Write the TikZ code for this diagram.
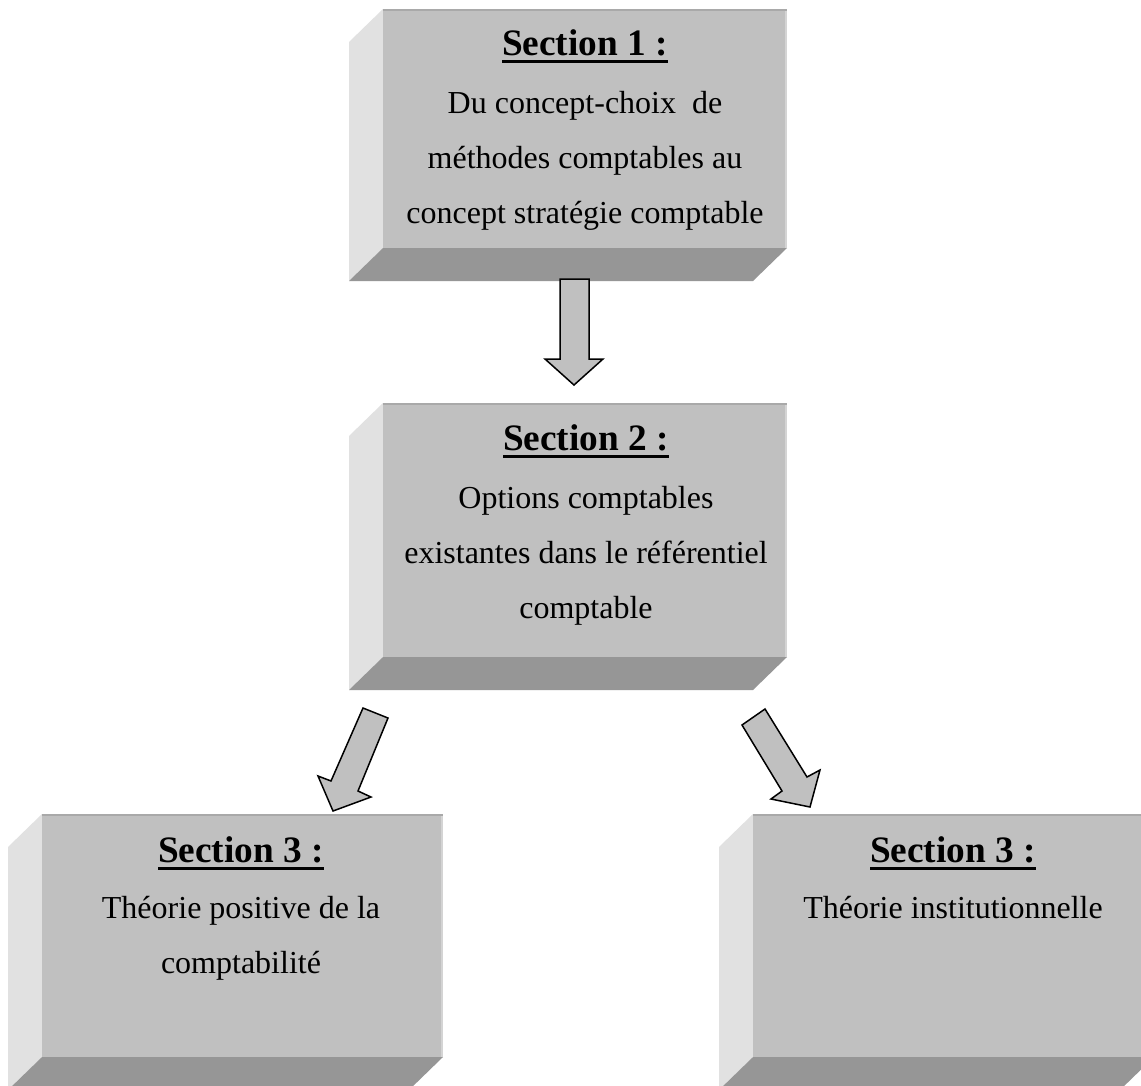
\documentclass[tikz,border=0pt]{standalone}
\usepackage{fontspec}
\setmainfont{Liberation Serif}
\definecolor{frontgray}{HTML}{C0C0C0}
\definecolor{leftgray}{HTML}{E1E1E1}
\definecolor{bottomgray}{HTML}{969696}
\definecolor{topedge}{HTML}{A9A9A9}
\definecolor{rightedge}{HTML}{D4D4D4}
\newcommand\titleul[1]{\setbox0\hbox{#1}\leavevmode\rlap{\rule[-7.5pt]{\wd0}{2.8pt}}\box0}
\newcommand\bevelbox[5]{%
  % #1 name, (#2,#3) top-left of front face, (#4,#5) bottom-right of front face
  \fill[leftgray] (#2,#3) -- (#2,#5) -- (#2-34,#5+33) -- (#2-34,#3+33) -- cycle;
  \fill[bottomgray] (#2,#5) -- (#4,#5) -- (#4-34,#5+33) -- (#2-34,#5+33) -- cycle;
  \node[front, minimum width=#4-#2, minimum height=#5-#3, anchor=north west] (#1) at (#2,#3) {};
  \draw[topedge, line width=2pt] ([yshift=-1pt]#1.north west) -- ([yshift=-1pt]#1.north east);
  \draw[rightedge, line width=2pt] ([xshift=-1pt,yshift=-2pt]#1.north east) -- ([xshift=-1pt]#1.south east);
}
\begin{document}
\begin{tikzpicture}[x=1pt,y=-1pt,
  front/.style={rectangle, fill=frontgray, inner sep=0pt, outer sep=0pt},
  titletext/.style={anchor=base, inner sep=0pt, font=\fontsize{37.3}{40}\selectfont\bfseries},
  bodytext/.style={anchor=base, inner sep=0pt, font=\fontsize{32}{55}\selectfont},
  blockarrow/.style={fill=frontgray, draw=black, line width=1.5pt, line join=miter}]
\useasboundingbox (0,0) rectangle (1141,1085);
\fill[white] (0,0) rectangle (1141,1085);
\clip (0,0) rectangle (1141,1085);

% boxes
\bevelbox{s1}{383}{9}{787}{248}
\bevelbox{s2}{383}{403}{787}{657}
\bevelbox{s3}{42}{814}{443}{1057}
\bevelbox{s4}{753}{814}{1154}{1057}

% texts
\node[titletext] (s1t) at (585,55) {\titleul{Section 1 :}};
\node[bodytext] (s1b) at (585,113) {\begin{tabular}[t]{@{}c@{}}Du concept-choix\ \ de\\méthodes comptables au\\concept stratégie comptable\end{tabular}};

\node[titletext] (s2t) at (586,450) {\titleul{Section 2 :}};
\node[bodytext] (s2b) at (586,508) {\begin{tabular}[t]{@{}c@{}}Options comptables\\existantes dans le référentiel\\comptable\end{tabular}};

\node[titletext] (s3t) at (241,862) {\titleul{Section 3 :}};
\node[bodytext] (s3b) at (241,918) {\begin{tabular}[t]{@{}c@{}}Théorie positive de la\\comptabilité\end{tabular}};

\node[titletext] (s4t) at (953,862) {\titleul{Section 3 :}};
\node[bodytext] (s4b) at (953,918) {Théorie institutionnelle};

% block arrows
\draw[blockarrow] (560,279) -- (560,359) -- (545,359) -- (574,385) -- (603,359) -- (589,359) -- (589,279) -- cycle;
\draw[blockarrow] (363,708) -- (331,781) -- (318,776) -- (333,811) -- (371,797) -- (358,791) -- (388,718) -- cycle;
\draw[blockarrow] (765,709) -- (807,777) -- (820,770) -- (810,807) -- (771,799) -- (782,791) -- (742,725) -- cycle;
\end{tikzpicture}
\end{document}
